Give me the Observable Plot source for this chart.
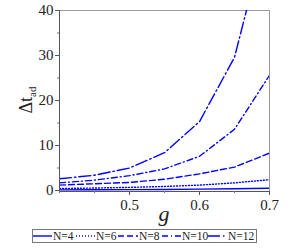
<!DOCTYPE html>
<html><head><meta charset="utf-8">
<script src="https://cdn.jsdelivr.net/npm/d3@7"></script>
<script src="https://cdn.jsdelivr.net/npm/@observablehq/plot@0.6"></script>
<style>
body{margin:0;background:#fff;}
#chart{position:relative;width:299px;}
</style>
</head><body><div id="chart"></div>
<script>
const gValues = [0.4, 0.45, 0.5, 0.55, 0.6, 0.65, 0.7];
const seriesNames = ["N=4", "N=6", "N=8", "N=10", "N=12"];
const n4  = [0.15, 0.17, 0.2, 0.24, 0.3, 0.38, 0.5];
const n6  = [0.45, 0.55, 0.7, 0.9, 1.2, 1.7, 2.4];
const n8  = [1.2, 1.5, 1.8, 2.5, 3.7, 5.2, 8.3];
const n10 = [1.7, 2.3, 3.3, 4.8, 7.6, 13.6, 25.6];
const n12 = [2.6, 3.4, 5.0, 8.4, 15.3, 29.6, 60];
const dashes = ["none", "1,2", "6,3", "6,3,1,3", "12,3,1.5,3"];
const seriesValues = [n4, n6, n8, n10, n12];
const xTicks = [0.5, 0.6, 0.7];
const xMinor = [0.4, 0.45, 0.55, 0.65];
const yTicks = [0, 10, 20, 30, 40];
const yMinor = [5, 15, 25, 35];

const serif = "Liberation Serif";
const blue = "#0000ff";
const lines = seriesValues.map((vals, i) =>
  Plot.line(vals.map((v, j) => ({g: gValues[j], v})), {
    x: "g", y: "v", stroke: blue, strokeWidth: 1.4,
    strokeDasharray: dashes[i], clip: true
  }));

const plot = Plot.plot({
  width: 299, height: 228,
  marginLeft: 59, marginRight: 30, marginTop: 10, marginBottom: 37,
  style: {fontFamily: serif, fontSize: "15px", color: "#222", background: "#fff"},
  x: {domain: [0.4, 0.7], label: null},
  y: {domain: [-0.22, 40], label: null},
  marks: [
    Plot.frame({stroke: "#999", strokeWidth: 1}),
    ...lines,
    Plot.ruleY([-0.22], {stroke: "#555"}),
    Plot.ruleX([0.4], {stroke: "#555"}),
    Plot.axisX({ticks: xTicks, tickSize: 4, tickFormat: d => d.toFixed(1), fontSize: 15, tickPadding: 4, label: null, stroke: "#555"}),
    Plot.axisX({ticks: xMinor, tickSize: 2, tickFormat: () => "", label: null, stroke: "#777"}),
    Plot.axisY({ticks: yTicks, tickSize: 4, fontSize: 15, tickPadding: 2, label: null, stroke: "#555"}),
    Plot.axisY({ticks: yMinor, tickSize: 2, tickFormat: () => "", label: null, stroke: "#777"})
  ]
});

const svg = d3.select(plot);
svg.selectAll("text").style("font-family", serif);
svg.append("text").attr("x", 164).attr("y", 221).attr("text-anchor", "middle")
  .style("font-family", serif).attr("font-style", "italic").attr("font-size", 22).attr("fill", "#222").text("g");
const yl = svg.append("text").attr("transform", "translate(32,100) rotate(-90)").attr("text-anchor", "middle")
  .style("font-family", serif).attr("font-size", 18).attr("fill", "#222");
yl.append("tspan").text("Δt");
yl.append("tspan").attr("font-size", 11).attr("dy", 4).text("ad");

document.getElementById("chart").appendChild(plot);

// legend
const leg = d3.select("#chart").append("svg").attr("width", 299).attr("height", 21).style("display", "block");
leg.append("rect").attr("x", 32.5).attr("y", 1.5).attr("width", 224).attr("height", 13)
  .attr("fill", "none").attr("stroke", "#777");
const itemX = [33, 76, 118, 162, 208];
const lineW = [19, 19, 20, 19, 19];
seriesNames.forEach((name, i) => {
  const x0 = itemX[i];
  leg.append("line").attr("x1", x0).attr("x2", x0 + lineW[i]).attr("y1", 8).attr("y2", 8)
    .attr("stroke", blue).attr("stroke-width", 1.4).attr("stroke-dasharray", dashes[i]);
  leg.append("text").attr("x", x0 + lineW[i] + 1).attr("y", 12).attr("font-size", 11.5)
    .style("font-family", serif).attr("fill", "#222").text(name);
});
</script></body></html>
